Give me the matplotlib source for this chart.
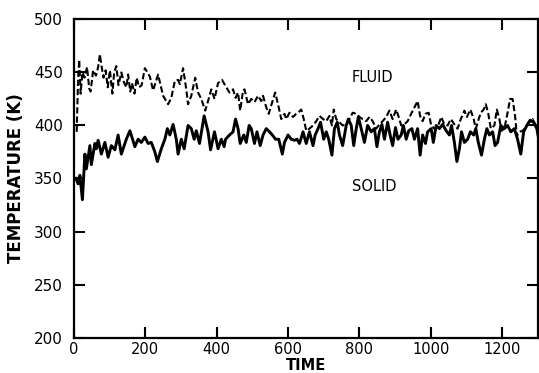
import matplotlib
matplotlib.use("Agg")
import matplotlib.pyplot as plt

# values
fluid_t = [8, 12, 15, 19, 24, 30, 37, 43, 47, 54, 62, 68, 73, 78, 83, 89, 95, 101,
           108, 113, 119, 125, 133, 140, 147, 152, 158, 163, 170, 176, 183, 190, 199,
           213, 222, 236, 250, 264, 273, 283, 292, 297, 306, 315, 320, 329, 340, 348,
           357, 368, 376, 385, 394, 404, 415, 427, 436, 446, 453, 460, 466, 474, 478,
           488, 497, 506, 516, 525, 530, 539, 546, 553, 564, 572, 581, 590, 595, 604,
           614, 623, 628, 637, 644, 651, 660, 670, 679, 688, 698, 707, 716, 723, 728,
           735, 744, 753, 763, 772, 781, 791, 800, 809, 819, 828, 837, 847, 856, 865,
           875, 884, 893, 903, 910, 917, 926, 935, 945, 954, 963, 970, 977, 985, 994,
           1001, 1010, 1019, 1029, 1038, 1047, 1056, 1066, 1075, 1084, 1094, 1101,
           1111, 1120, 1126, 1134, 1140, 1148, 1154, 1161, 1168, 1178, 1185, 1192,
           1198, 1206, 1215, 1222, 1229, 1236, 1241, 1248, 1257, 1266, 1276, 1285,
           1294, 1300]
fluid_T = [394, 445, 462, 430, 450, 445, 455, 435, 432, 452, 447, 455, 467, 455, 445,
           452, 436, 452, 430, 450, 456, 438, 450, 441, 436, 448, 432, 440, 430, 445,
           436, 438, 454, 446, 433, 448, 428, 420, 426, 442, 443, 439, 454, 434, 420,
           428, 445, 431, 425, 414, 423, 434, 425, 440, 443, 436, 431, 434, 426, 431,
           414, 433, 434, 420, 425, 422, 428, 423, 428, 417, 411, 419, 431, 420, 406,
           411, 406, 412, 408, 411, 412, 415, 406, 395, 397, 400, 404, 409, 406, 404,
           409, 400, 415, 406, 403, 400, 401, 406, 412, 411, 408, 406, 404, 408, 404,
           397, 401, 404, 408, 414, 406, 415, 408, 400, 401, 404, 411, 417, 423, 409,
           404, 411, 412, 400, 397, 398, 408, 401, 400, 406, 401, 397, 406, 414, 408,
           415, 406, 397, 406, 412, 415, 420, 411, 397, 400, 415, 406, 395, 397, 412,
           425, 425, 409, 390, 394, 395, 398, 403, 406, 400, 394]

solid_t = [6, 12, 17, 24, 31, 35, 45, 49, 59, 63, 68, 77, 87, 96, 105, 115, 124, 133,
           147, 157, 171, 180, 189, 199, 208, 217, 227, 234, 245, 255, 262, 269, 278,
           287, 292, 301, 309, 320, 329, 337, 343, 352, 365, 376, 383, 394, 404, 413,
           421, 425, 436, 446, 453, 460, 466, 476, 483, 491, 497, 506, 513, 522, 530,
           539, 548, 556, 565, 574, 584, 590, 600, 609, 618, 625, 632, 635, 642, 651,
           660, 670, 676, 684, 691, 700, 707, 714, 723, 730, 738, 744, 753, 763, 769,
           777, 784, 791, 797, 805, 814, 823, 833, 842, 849, 856, 863, 870, 879, 886,
           893, 901, 908, 917, 923, 931, 938, 947, 954, 963, 970, 977, 985, 991, 1001,
           1007, 1015, 1024, 1033, 1043, 1052, 1058, 1066, 1073, 1080, 1086, 1094,
           1103, 1111, 1120, 1126, 1133, 1142, 1150, 1157, 1164, 1173, 1180, 1187,
           1196, 1206, 1215, 1224, 1234, 1243, 1252, 1260, 1269, 1278, 1288, 1297, 1300]
solid_T = [350, 345, 353, 330, 373, 359, 381, 363, 383, 378, 386, 373, 384, 370, 381,
           377, 391, 373, 387, 395, 380, 387, 384, 389, 383, 384, 375, 366, 378, 387,
           397, 391, 401, 387, 373, 387, 378, 400, 397, 387, 395, 383, 409, 394, 377,
           394, 378, 387, 380, 387, 391, 394, 406, 397, 383, 391, 384, 400, 397, 383,
           394, 381, 391, 397, 394, 391, 387, 387, 373, 384, 391, 387, 386, 387, 383,
           386, 394, 383, 394, 381, 391, 397, 403, 387, 394, 387, 372, 397, 403, 391,
           381, 400, 406, 400, 381, 397, 408, 397, 384, 400, 394, 397, 380, 394, 401,
           387, 403, 391, 381, 398, 387, 391, 400, 387, 395, 397, 387, 397, 372, 391,
           383, 394, 397, 384, 400, 397, 401, 395, 391, 400, 384, 366, 378, 394, 384,
           387, 394, 391, 397, 384, 372, 387, 397, 391, 394, 381, 384, 400, 397, 400,
           394, 397, 387, 373, 394, 400, 405, 403, 397, 391]

x_ticks = [0, 200, 400, 600, 800, 1000, 1200]
y_ticks = [200, 250, 300, 350, 400, 450, 500]

fig = plt.figure(figsize=(5.39, 3.73), dpi=100)
ax = fig.add_axes([0.137, 0.095, 0.861, 0.853])

ax.plot(fluid_t, fluid_T, color="black", lw=1.5, ls=(0, (3.0, 1.4)))
ax.plot(solid_t, solid_T, color="black", lw=2.1, solid_joinstyle="round")

ax.set_xlim(0, 1300)
ax.set_ylim(200, 500)
ax.set_xticks(x_ticks)
ax.set_yticks(y_ticks)
ax.set_xticklabels([str(v) for v in x_ticks])
ax.tick_params(direction="in", length=8, width=1.5, top=True, right=True,
               labelsize=11)
ax.tick_params(axis="y", pad=8)
ax.tick_params(axis="x", pad=3, labelsize=10.5)
for s in ax.spines.values():
    s.set_linewidth(1.6)

ax.set_ylabel("TEMPERATURE (K)", fontsize=12, fontweight="bold", labelpad=6)
ax.set_xlabel("TIME", fontsize=10.5, fontweight="bold", labelpad=1)

ax.text(836, 445, "FLUID", fontsize=10.5, ha="center", va="center")
ax.text(842, 342, "SOLID", fontsize=10.5, ha="center", va="center")

fig.savefig("out.png", dpi=100)
